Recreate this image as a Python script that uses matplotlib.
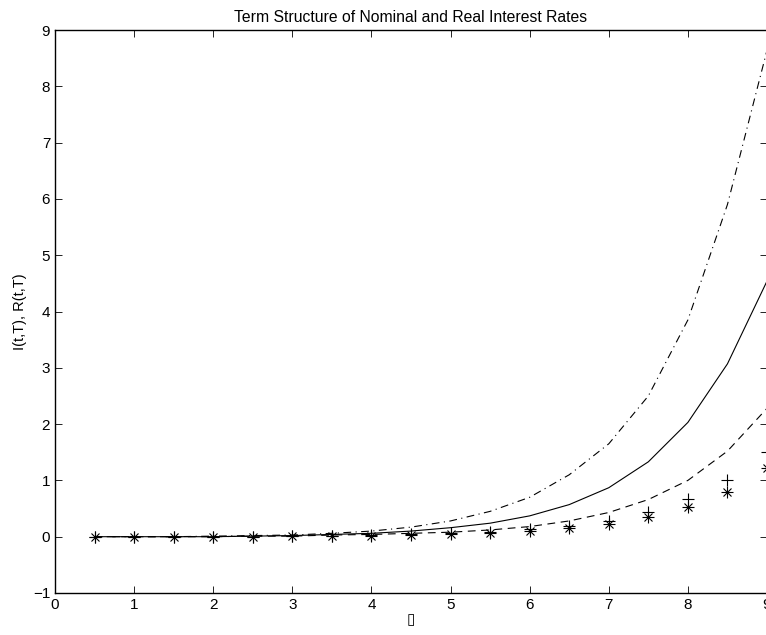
import numpy as np
import matplotlib.pyplot as plt

plt.rcParams['font.family'] = ['Liberation Sans', 'DejaVu Sans']

# maturities
tau = [0.5, 1, 1.5, 2, 2.5, 3, 3.5, 4, 4.5, 5, 5.5, 6, 6.5, 7, 7.5, 8, 8.5, 9]

# nominal / real rates
i_high = [0.0, 0.0, 0.0, 0.01, 0.02, 0.03, 0.06, 0.1, 0.17, 0.28, 0.45, 0.7, 1.1, 1.65, 2.5, 3.85, 5.9, 8.64]
i_mid = [0.0, 0.0, 0.0, 0.0, 0.01, 0.02, 0.04, 0.06, 0.1, 0.16, 0.24, 0.37, 0.57, 0.87, 1.33, 2.03, 3.07, 4.54]
i_low = [0.0, 0.0, 0.0, 0.0, 0.01, 0.01, 0.03, 0.04, 0.06, 0.08, 0.12, 0.18, 0.28, 0.43, 0.66, 1.0, 1.52, 2.28]
r_plus = [0.0, 0.0, 0.0, 0.0, 0.0, 0.01, 0.02, 0.03, 0.04, 0.06, 0.09, 0.13, 0.19, 0.27, 0.44, 0.67, 1.0, 1.5]
r_star = [0.0, 0.0, 0.0, 0.0, 0.0, 0.01, 0.01, 0.02, 0.03, 0.04, 0.06, 0.1, 0.15, 0.23, 0.35, 0.53, 0.8, 1.22]

fig = plt.figure(figsize=(7.66, 6.35), dpi=100)
ax = fig.add_axes([55 / 766, (635 - 593) / 635, 712 / 766, 563 / 635])

ax.plot(tau, i_mid, '-', color='k', linewidth=0.8)
ax.plot(tau, i_low, '--', color='k', linewidth=0.8, dashes=(7, 5))
ax.plot(tau, i_high, '-.', color='k', linewidth=0.8, dashes=(7, 4, 1, 4))
ax.plot(tau, r_plus, '+', color='k', markersize=9, markeredgewidth=0.8)
# matlab-style asterisk = plus over cross
ax.plot(tau, r_star, '+', color='k', markersize=8, markeredgewidth=0.8)
ax.plot(tau, r_star, 'x', color='k', markersize=5.5, markeredgewidth=0.8)

ax.set_xlim(0, 9)
ax.set_ylim(-1, 9)
ax.set_xticks(range(0, 10))
ax.set_yticks(range(-1, 10))
ax.tick_params(direction='in', top=True, right=True, labelsize=11, length=5, width=0.6)
for s in ax.spines.values():
    s.set_linewidth(1.0)

ax.set_title('Term Structure of Nominal and Real Interest Rates', fontsize=11.3, pad=6)
ax.set_xlabel('\u25af', fontsize=11, labelpad=1)
ax.set_ylabel('I(t,T), R(t,T)', fontsize=10.5, labelpad=4)

plt.savefig('out.png', dpi=100)
